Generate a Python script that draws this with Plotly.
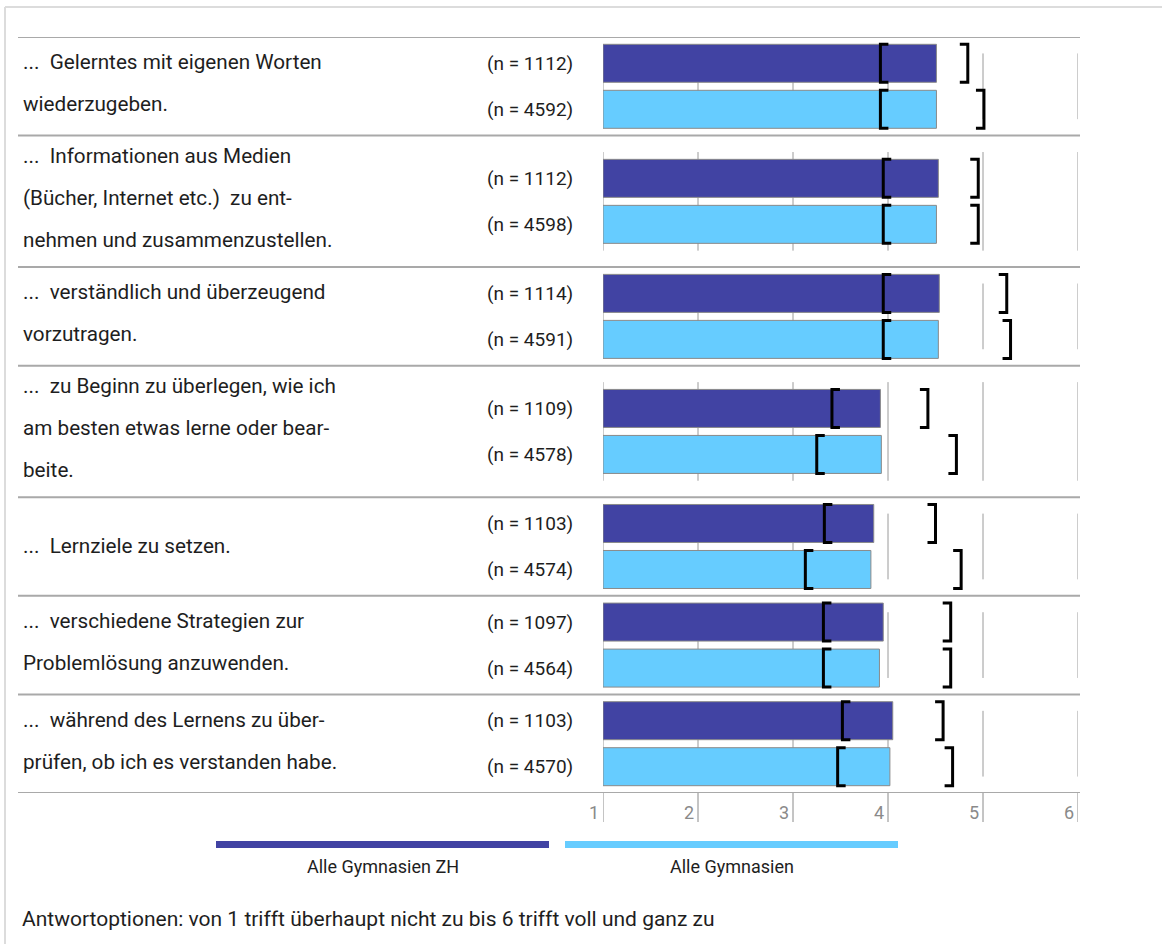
import plotly.graph_objects as go

# Item texts (one list entry per printed line)
items = [
    ["...\u00a0 Gelerntes mit eigenen Worten", "wiederzugeben."],
    ["...\u00a0 Informationen aus Medien", "(Bücher, Internet etc.)\u00a0 zu ent-", "nehmen und zusammenzustellen."],
    ["...\u00a0 verständlich und überzeugend", "vorzutragen."],
    ["...\u00a0 zu Beginn zu überlegen, wie ich", "am besten etwas lerne oder bear-", "beite."],
    ["...\u00a0 Lernziele zu setzen."],
    ["...\u00a0 verschiedene Strategien zur", "Problemlösung anzuwenden."],
    ["...\u00a0 während des Lernens zu über-", "prüfen, ob ich es verstanden habe."],
]

series_names = ["Alle Gymnasien ZH", "Alle Gymnasien"]

# Mean values
mean_zh = [4.51, 4.53, 4.54, 3.92, 3.85, 3.95, 4.05]
mean_all = [4.51, 4.51, 4.53, 3.93, 3.82, 3.91, 4.02]

# Lower / upper bracket positions
low_zh = [3.92, 3.95, 3.95, 3.41, 3.33, 3.32, 3.52]
high_zh = [4.84, 4.95, 5.25, 4.42, 4.50, 4.66, 4.58]
low_all = [3.92, 3.95, 3.95, 3.25, 3.13, 3.32, 3.47]
high_all = [5.01, 4.95, 5.29, 4.72, 4.77, 4.66, 4.68]

# Sample sizes
n_zh = [1112, 1112, 1114, 1109, 1103, 1097, 1103]
n_all = [4592, 4598, 4591, 4578, 4574, 4564, 4570]

scale_ticks = [1, 2, 3, 4, 5, 6]

footer = "Antwortoptionen: von 1 trifft überhaupt nicht zu bis 6 trifft voll und ganz zu"

# ---------------------------------------------------------------- layout
W, H = 1162, 944
ML, MR, MT, MB = 603, 84, 37, 151
PW, PH = W - ML - MR, H - MT - MB

FONT = "Roboto"
TXT = "#1e1e1e"
C_ZH = "#4143A3"
C_ALL = "#66CCFF"
C_EDGE = "#8a8a8a"
C_SEP = "#a9a9a9"
C_GRID = "#9a9a9a"

rows = [max(len(t), 2) + 1 for t in items]
total_rows = sum(rows)
unit_px = PH / total_rows


def u(px):
    """pixels -> y-axis units"""
    return px / unit_px


def px_x(px):
    """figure pixel x -> paper x"""
    return (px - ML) / PW


def px_y(px):
    """figure pixel y -> paper y"""
    return 1 - (px - MT) / PH


bar_h = u(38)
bar_off = u(23)
line_gap = u(42)

tops, centers = [], []
acc = 0
for r in rows:
    tops.append(acc)
    centers.append(acc + r / 2)
    acc += r

y_zh = [c - bar_off for c in centers]
y_all = [c + bar_off for c in centers]

fig = go.Figure()

for name, vals, ys, col in [
    (series_names[0], mean_zh, y_zh, C_ZH),
    (series_names[1], mean_all, y_all, C_ALL),
]:
    fig.add_trace(go.Bar(
        name=name, orientation="h",
        x=[v - 1 for v in vals], base=1, y=ys, width=bar_h,
        marker=dict(color=col, line=dict(color=C_EDGE, width=1)),
        showlegend=False,
    ))

# brackets
serif = 8 / 95
bx, by = [], []
for lows, highs, ys in [(low_zh, high_zh, y_zh), (low_all, high_all, y_all)]:
    for lo, hi, yc in zip(lows, highs, ys):
        t, b = yc - bar_h / 2, yc + bar_h / 2
        bx += [lo + serif, lo, lo, lo + serif, None]
        by += [t, t, b, b, None]
        bx += [hi - serif, hi, hi, hi - serif, None]
        by += [t, t, b, b, None]
fig.add_trace(go.Scatter(x=bx, y=by, mode="lines",
                         line=dict(color="black", width=3),
                         showlegend=False, hoverinfo="skip"))

shapes = []
annotations = []

# group grid lines
for top, r in zip(tops, rows):
    for t in scale_ticks:
        shapes.append(dict(type="line", xref="x", yref="y", layer="below",
                           x0=t, x1=t, y0=top + 0.5, y1=top + r - 0.5,
                           line=dict(color=C_GRID, width=1)))

# separators
for yb in tops + [total_rows]:
    shapes.append(dict(type="line", xref="paper", yref="y",
                       x0=px_x(18), x1=px_x(1080), y0=yb, y1=yb,
                       line=dict(color=C_SEP, width=2)))

# bottom tick marks and labels
for t in scale_ticks:
    shapes.append(dict(type="line", xref="x", yref="paper",
                       x0=t, x1=t, y0=0, y1=px_y(822),
                       line=dict(color="#8a8a8a", width=1)))
    annotations.append(dict(x=t, y=px_y(812), xref="x", yref="paper",
                            text=str(t), showarrow=False, xanchor="right",
                            yanchor="middle", xshift=-2,
                            font=dict(family=FONT, size=18, color="#8a8a8a")))

# item texts
for lines, c in zip(items, centers):
    n = len(lines)
    for i, ln in enumerate(lines):
        yy = c + (i - (n - 1) / 2) * line_gap - (u(3) if n > 1 else 0)
        annotations.append(dict(x=px_x(21), y=yy, xref="paper", yref="y",
                                text=ln, showarrow=False, xanchor="left",
                                yanchor="middle",
                                font=dict(family=FONT, size=20.7, color=TXT)))

# sample sizes
for nz, na, yz, ya in zip(n_zh, n_all, y_zh, y_all):
    for nv, yy in [(nz, yz), (na, ya)]:
        annotations.append(dict(x=px_x(575), y=yy, xref="paper", yref="y",
                                text=f"(n = {nv})", showarrow=False,
                                xanchor="right", yanchor="middle",
                                font=dict(family=FONT, size=19, color=TXT)))

# legend
for name, col, x0, x1 in [(series_names[0], C_ZH, 216, 549),
                          (series_names[1], C_ALL, 565, 898)]:
    shapes.append(dict(type="rect", xref="paper", yref="paper",
                       x0=px_x(x0), x1=px_x(x1), y0=px_y(848), y1=px_y(841),
                       fillcolor=col, line=dict(width=0)))
    annotations.append(dict(x=px_x((x0 + x1) / 2), y=px_y(866),
                            xref="paper", yref="paper", text=name,
                            showarrow=False, xanchor="center", yanchor="middle",
                            font=dict(family=FONT, size=18, color=TXT)))

# footer
annotations.append(dict(x=px_x(20), y=px_y(919), xref="paper", yref="paper",
                        text=footer, showarrow=False, xanchor="left",
                        yanchor="middle",
                        font=dict(family=FONT, size=21, color=TXT)))

# outer frame
shapes.append(dict(type="line", xref="paper", yref="paper",
                   x0=px_x(5), x1=px_x(W), y0=px_y(7), y1=px_y(7),
                   line=dict(color="#dcdcdc", width=2)))
shapes.append(dict(type="line", xref="paper", yref="paper",
                   x0=px_x(5), x1=px_x(5), y0=px_y(7), y1=px_y(H),
                   line=dict(color="#dcdcdc", width=2)))

fig.update_layout(
    width=W, height=H,
    margin=dict(l=ML, r=MR, t=MT, b=MB),
    paper_bgcolor="white", plot_bgcolor="white",
    barmode="overlay",
    xaxis=dict(range=[1, 6], visible=False, fixedrange=True),
    yaxis=dict(range=[total_rows, 0], visible=False, fixedrange=True),
    shapes=shapes, annotations=annotations,
    font=dict(family=FONT),
)

fig.write_html("out.html")
